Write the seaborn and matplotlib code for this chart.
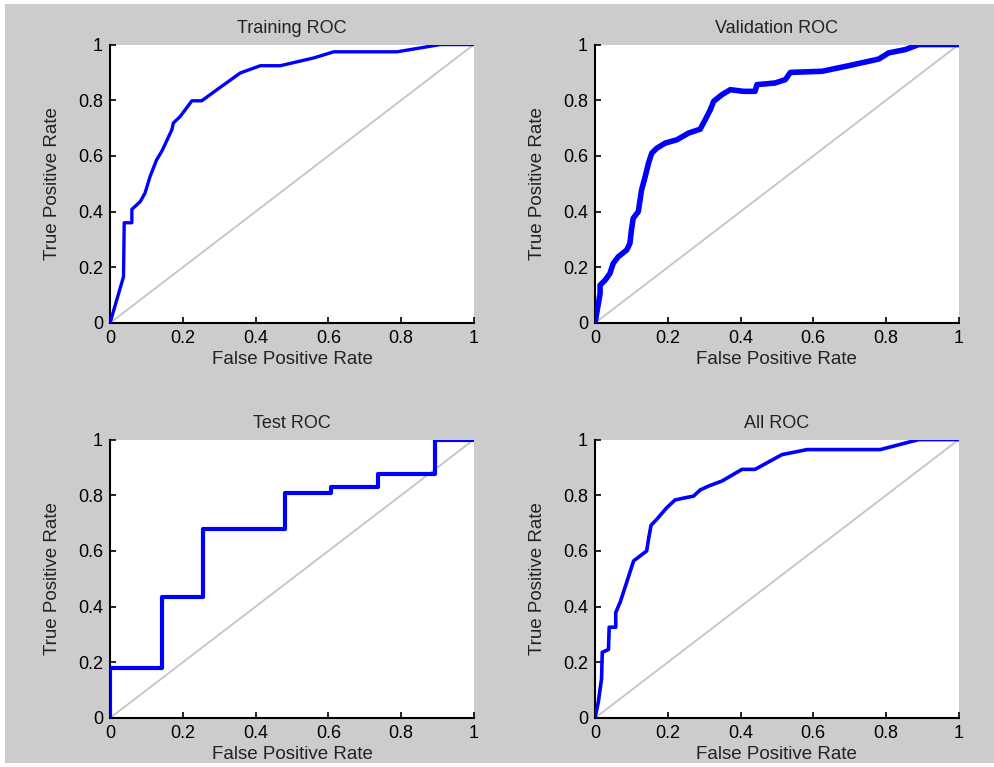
import numpy as np
import pandas as pd
import matplotlib
matplotlib.use('Agg')
import matplotlib.pyplot as plt
import seaborn as sns

sns.set_style('ticks')
plt.rcParams['font.family'] = ['Liberation Sans', 'DejaVu Sans']

# ROC vertices (false positive rate, true positive rate)
train_fpr = [0, 0.037, 0.039, 0.06, 0.06, 0.083, 0.096, 0.11, 0.128, 0.142, 0.17, 0.174,
             0.193, 0.225, 0.252, 0.294, 0.358, 0.413, 0.468, 0.56, 0.615, 0.789, 0.908, 1.0]
train_tpr = [0, 0.166, 0.36, 0.36, 0.408, 0.436, 0.466, 0.526, 0.586, 0.616, 0.694, 0.718,
             0.742, 0.798, 0.798, 0.838, 0.898, 0.924, 0.924, 0.952, 0.974, 0.974, 1.0, 1.0]

val_fpr = [0, 0.014, 0.014, 0.028, 0.041, 0.05, 0.064, 0.087, 0.096, 0.1, 0.105, 0.119,
           0.128, 0.138, 0.147, 0.156, 0.17, 0.193, 0.225, 0.257, 0.289, 0.303, 0.317,
           0.326, 0.349, 0.372, 0.408, 0.44, 0.445, 0.495, 0.523, 0.537, 0.624, 0.697,
           0.78, 0.807, 0.853, 0.89, 1.0]
val_tpr = [0, 0.106, 0.136, 0.154, 0.178, 0.214, 0.238, 0.262, 0.286, 0.334, 0.376, 0.40,
           0.478, 0.526, 0.574, 0.61, 0.628, 0.646, 0.658, 0.682, 0.696, 0.73, 0.766,
           0.796, 0.82, 0.838, 0.832, 0.832, 0.856, 0.862, 0.874, 0.9, 0.904, 0.924,
           0.948, 0.97, 0.982, 1.0, 1.0]

test_fpr = [0, 0, 0.142, 0.142, 0.255, 0.255, 0.48, 0.48, 0.608, 0.608, 0.737, 0.737,
            0.894, 0.894, 1.0]
test_tpr = [0, 0.18, 0.18, 0.434, 0.434, 0.679, 0.679, 0.809, 0.809, 0.829, 0.829, 0.877,
            0.877, 1.0, 1.0]

all_fpr = [0, 0.009, 0.018, 0.02, 0.037, 0.039, 0.057, 0.057, 0.069, 0.087, 0.106, 0.124,
           0.142, 0.147, 0.154, 0.17, 0.197, 0.22, 0.248, 0.271, 0.289, 0.312, 0.349,
           0.404, 0.44, 0.514, 0.583, 0.784, 0.89, 1.0]
all_tpr = [0, 0.057, 0.141, 0.236, 0.246, 0.326, 0.326, 0.379, 0.415, 0.487, 0.564, 0.582,
           0.6, 0.642, 0.692, 0.714, 0.755, 0.783, 0.791, 0.797, 0.819, 0.833, 0.851,
           0.893, 0.893, 0.946, 0.964, 0.964, 1.0, 1.0]

titles = ['Training ROC', 'Validation ROC', 'Test ROC', 'All ROC']
tick_vals = [0, 0.2, 0.4, 0.6, 0.8, 1]
tick_labels = ['0', '0.2', '0.4', '0.6', '0.8', '1']

panels = [(train_fpr, train_tpr, 2.4), (val_fpr, val_tpr, 4.0),
          (test_fpr, test_tpr, 3.0), (all_fpr, all_tpr, 2.6)]

fig = plt.figure(figsize=(9.94, 7.67), dpi=100, facecolor='white')
# gray figure panel with thin white margin, like the exported MATLAB window
fig.patches.append(plt.Rectangle((5 / 994, 4 / 767), 1, 1 - 8 / 767,
                                 transform=fig.transFigure, facecolor='#cccccc',
                                 edgecolor='none', zorder=-10))

boxes = [(0.1107, 0.5789), (0.5986, 0.5789), (0.1107, 0.0639), (0.5986, 0.0639)]
w, h = 0.366, 0.3630

for (fpr, tpr, lw), title, (x0, y0) in zip(panels, titles, boxes):
    ax = fig.add_axes([x0, y0, w, h])
    ax.set_facecolor('white')
    ax.plot([0, 1], [0, 1], color='#c4c4c4', lw=1.3, zorder=1)
    df = pd.DataFrame({'fpr': fpr, 'tpr': tpr})
    sns.lineplot(data=df, x='fpr', y='tpr', sort=False, estimator=None,
                 color='#0000ff', lw=lw, ax=ax, zorder=3)
    ax.set_xlim(0, 1)
    ax.set_ylim(0, 1)
    ax.set_xticks(tick_vals)
    ax.set_xticklabels(tick_labels)
    ax.set_yticks(tick_vals)
    ax.set_yticklabels(tick_labels)
    ax.tick_params(direction='in', length=4, width=1.2, labelsize=13,
                   colors='black', pad=5)
    for s in ['top', 'right']:
        ax.spines[s].set_visible(False)
    for s in ['left', 'bottom']:
        ax.spines[s].set_linewidth(1.5)
        ax.spines[s].set_color('black')
    ax.set_title(title, fontsize=13, pad=8, color='#222222')
    ax.set_xlabel('False Positive Rate', fontsize=13.5, labelpad=3, color='#222222')
    ax.set_ylabel('True Positive Rate', fontsize=13.5, labelpad=12, color='#222222')

fig.savefig('out.png', dpi=100, facecolor=fig.get_facecolor())
